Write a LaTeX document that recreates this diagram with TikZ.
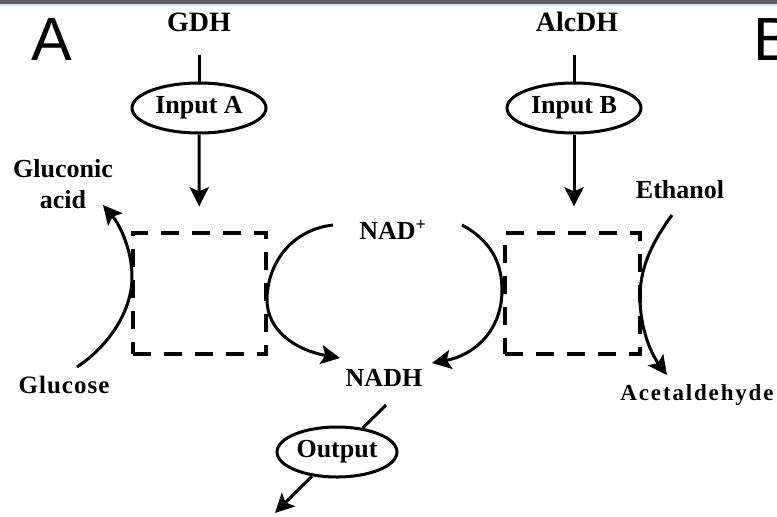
\documentclass[tikz,border=0pt]{standalone}
\usepackage{fontspec}
\setmainfont{Liberation Serif}
\newfontfamily\panelfont{Liberation Sans}
\usetikzlibrary{shapes.geometric, arrows.meta, positioning}
\definecolor{marcoGris}{HTML}{5E5E5E}
\definecolor{marcoAzul}{HTML}{D6E4F0}

\begin{document}
\begin{tikzpicture}[x=1pt, y=-1pt, >={Stealth[length=19pt,width=19pt,inset=4pt]},
        font=\fontsize{26}{31}\selectfont\bfseries,
        lbl/.style={inner sep=0pt, align=center},
        enz/.style={draw, ellipse, line width=3pt, minimum width=134pt, minimum height=50pt,
            inner sep=1pt, font=\fontsize{26}{30}\selectfont\bfseries},
        site/.style={draw, line width=3.3pt, dash pattern=on 18pt off 13pt,
            minimum width=133pt, minimum height=121pt},
        tr/.style={->, line width=3pt},
        stem/.style={line width=3pt}]
    \useasboundingbox[fill=white] (0,0) rectangle (777,517);
    \fill[marcoGris] (0,0) rectangle (777,4);
    \fill[marcoAzul] (0,4) rectangle (777,6);
    % panel letters
    \node[lbl, font=\panelfont\fontsize{61}{61}\selectfont] (pA) at (52,40) {A};
    \node[lbl, font=\panelfont\fontsize{61}{61}\selectfont, anchor=west] (pB) at (753,40) {B};
    % enzyme A side
    \node[lbl, font=\fontsize{28}{30}\selectfont\bfseries] (gdh) at (199,22) {GDH};
    \node[enz] (inA) at (199,108) {Input A};
    \node[site] (boxA) at (199.5,293.5) {};
    \draw[stem, shorten <=23pt] (gdh) -- (inA);
    \draw[tr, shorten >=25pt] (inA) -- (boxA);
    % enzyme B side
    \node[lbl, font=\fontsize{28}{30}\selectfont\bfseries] (alcdh) at (577,22) {AlcDH};
    \node[enz] (inB) at (574,108) {Input B};
    \node[site, minimum width=135pt] (boxB) at (572.5,293.5) {};
    \draw[stem, shorten <=23pt] (alcdh.south -| inB) -- (inB);
    \draw[tr, shorten >=25pt] (inB) -- (inB |- boxB.north);
    % substrates
    \node[lbl] (gluAc) at (63,184) {Gluconic\\acid};
    \node[lbl, font=\fontsize{25}{31}\selectfont\bfseries\addfontfeature{LetterSpace=4}] (glu) at (64,385) {Glucose};
    \node[lbl] (eth) at (680,190) {Ethanol};
    \node[lbl, font=\fontsize{23}{28}\selectfont\bfseries\addfontfeature{LetterSpace=8}] (acet) at (697,395) {Acetaldehyde};
    % cofactor
    \node[lbl, font=\fontsize{26}{30}\selectfont\bfseries] (nadp) at (393,230) {NAD\textsuperscript{+}};
    \node[lbl, font=\fontsize{26}{30}\selectfont\bfseries] (nadh) at (384,378) {NADH};
    \node[enz, minimum width=120pt] (out) at (337,452) {Output};
    \coordinate (gluS) at (77,367);
    \coordinate (gluE) at (103,205);
    \coordinate (nadL) at (333,225);
    \coordinate (nadhL) at (340,358);
    \coordinate (nadR) at (462,225);
    \coordinate (nadhR) at (432,363);
    \coordinate (ethS) at (672,215);
    \coordinate (acetE) at (667,375);
    \coordinate (nadhT) at (386,405);
    \coordinate (outE) at (275,513);
    \draw[tr] (gluS) .. controls (110,345) and (132,310) .. (132,277)
        .. controls (132,250) and (120,225) .. (gluE);
    \draw[tr] (nadL) .. controls (290,230) and (267,265) .. (267,300)
        .. controls (267,330) and (295,350) .. (nadhL);
    \draw[tr] (nadR) .. controls (490,240) and (502,262) .. (502,290)
        .. controls (502,330) and (475,355) .. (nadhR);
    \draw[tr] (ethS) .. controls (650,245) and (640,270) .. (640,297)
        .. controls (640,330) and (652,355) .. (acetE);
    \draw[stem] (nadhT) -- (out.43);
    \draw[tr] (out.224) -- (outE);
\end{tikzpicture}
\end{document}
